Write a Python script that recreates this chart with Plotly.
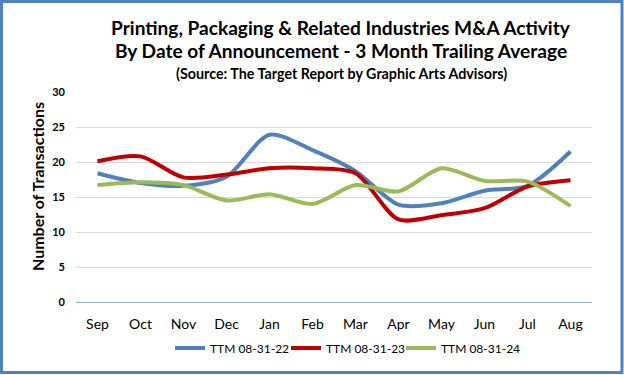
import plotly.graph_objects as go

months = ["Sep", "Oct", "Nov", "Dec", "Jan", "Feb", "Mar", "Apr", "May", "Jun", "Jul", "Aug"]
ttm_22 = [18.4, 17.0, 16.6, 17.9, 23.9, 21.7, 18.7, 13.9, 14.1, 15.9, 16.6, 21.5]
ttm_23 = [20.1, 20.8, 17.8, 18.2, 19.1, 19.1, 18.4, 11.8, 12.4, 13.4, 16.5, 17.4]
ttm_24 = [16.7, 17.1, 16.7, 14.5, 15.4, 14.0, 16.7, 15.8, 19.1, 17.3, 17.2, 13.7]
series_names = ["TTM 08-31-22", "TTM 08-31-23", "TTM 08-31-24"]
colors = ["#4F81BD", "#C00000", "#9BBB59"]

FONT = "Lato"
W, H = 624, 375
ML, MR, MT, MB = 76, 32, 92, 73
PW, PH = W - ML - MR, H - MT - MB

def px_x(p):
    return (p - ML) / PW

def px_y(p):
    return (H - MB - p) / PH

legend_ids = ["legend", "legend2", "legend3"]
legend_text_x = [210, 326, 441]

fig = go.Figure()
for name, vals, c, lg in zip(series_names, [ttm_22, ttm_23, ttm_24], colors, legend_ids):
    fig.add_trace(go.Scatter(x=months, y=vals, name=name, mode="lines", legend=lg,
                             line=dict(color=c, width=4, shape="spline", smoothing=0.8)))

fig.add_shape(type="rect", xref="paper", yref="paper",
              x0=px_x(1.5), x1=px_x(622), y0=px_y(372.5), y1=px_y(1.5),
              line=dict(color="#4F81BD", width=3), fillcolor="rgba(0,0,0,0)", layer="above")

titles = [
    ("Printing, Packaging & Related Industries M&A Activity", 19.1, 27),
    ("By Date of Announcement - 3 Month Trailing Average", 19.1, 50),
    ("(Source: The Target Report by Graphic Arts Advisors)", 14.3, 73),
]
for txt, sz, py in titles:
    fig.add_annotation(text="<b>" + txt + "</b>", xref="paper", yref="paper",
                       x=px_x(341), y=px_y(py), xanchor="center", yanchor="middle",
                       showarrow=False, font=dict(family=FONT, size=sz, color="#000000"))

fig.add_annotation(text="<b>Number of Transactions</b>", xref="paper", yref="paper",
                   x=px_x(37), y=px_y(187), xanchor="center", yanchor="middle",
                   textangle=-90, showarrow=False,
                   font=dict(family=FONT, size=16, color="#000000"))

legend_layout = {}
for lg, tx in zip(legend_ids, legend_text_x):
    legend_layout[lg] = dict(orientation="h", x=px_x(tx - 40), xanchor="left",
                             y=px_y(348), yanchor="middle",
                             font=dict(family=FONT, size=12, color="#000000"),
                             itemwidth=30, bgcolor="rgba(0,0,0,0)", borderwidth=0)

fig.update_layout(
    width=W, height=H,
    margin=dict(l=ML, r=MR, t=MT, b=MB, autoexpand=False),
    paper_bgcolor="white", plot_bgcolor="white",
    font=dict(family=FONT, color="#000000"),
    showlegend=True,
    **legend_layout,
)
fig.update_xaxes(range=[-0.5, 11.5], showgrid=False, showline=False, zeroline=False,
                 automargin=False,
                 tickfont=dict(family=FONT, size=14, color="#000000"),
                 ticks="", ticklabelstandoff=12)
fig.update_yaxes(range=[0, 30], dtick=5, showgrid=True, gridcolor="#D9D9D9", gridwidth=1,
                 zeroline=True, zerolinecolor="#95B3D7", zerolinewidth=1,
                 showline=False, ticks="", automargin=False, ticklabelstandoff=10,
                 tickfont=dict(family=FONT, size=11, color="#000000", weight="bold"))

fig.write_html("out.html",
               config={"displayModeBar": False},
               post_script="document.body.style.margin='0';document.body.style.padding='0';"
                           "document.body.style.overflow='hidden';"
                           "document.documentElement.style.overflow='hidden';")
